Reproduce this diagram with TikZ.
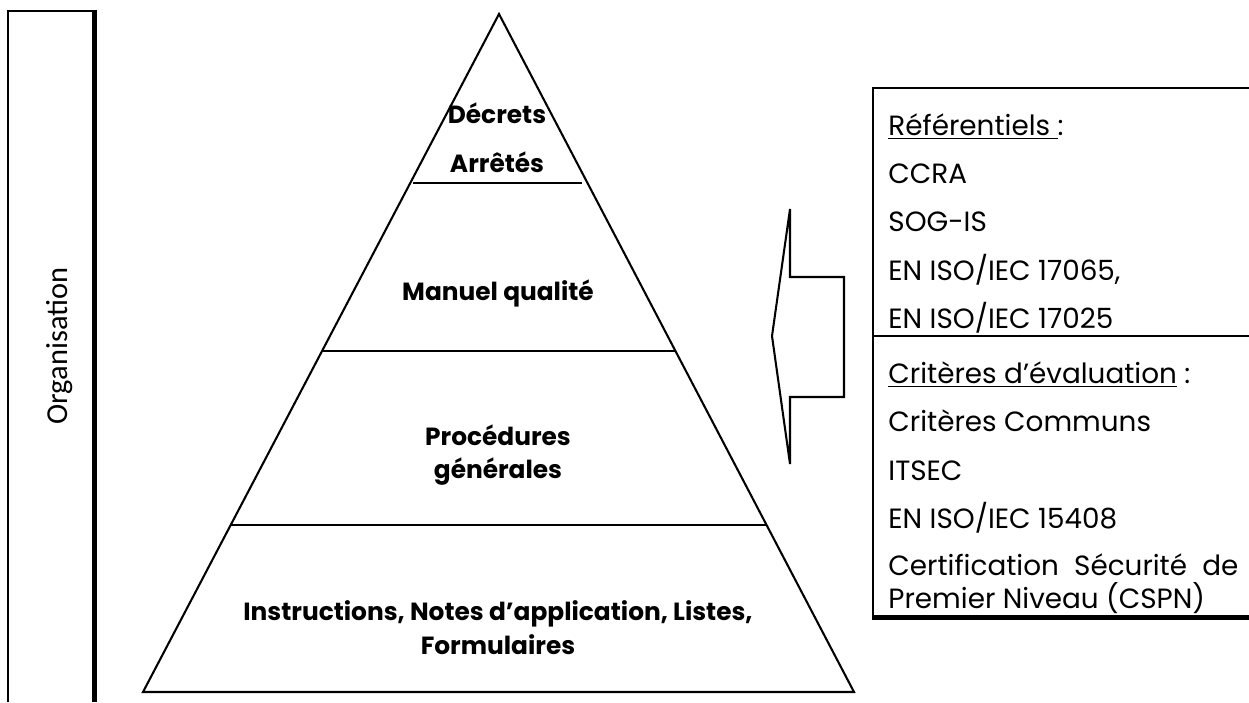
\documentclass[tikz,border=0pt]{standalone}
\usepackage{fontspec}
\setmainfont{Poppins}
\newfontfamily\calib{Carlito}
\usetikzlibrary{calc}
\newlength\mywd
\begin{document}
\settowidth\mywd{\fontsize{12}{14}\selectfont EN ISO/IEC 17065,}
\pgfmathsetmacro\refsize{12*106.72/\mywd}
\settowidth\mywd{\fontsize{12}{14}\selectfont\bfseries Décrets}
\pgfmathsetmacro\lvlsize{12*45.2/\mywd}
\begin{tikzpicture}[x=0.46pt,y=-0.46pt,line join=miter]
\tikzset{
  edge/.style={line width=0.95pt},
  heavy/.style={line width=2.3pt},
  lvl/.style={font=\fontsize{\lvlsize}{14}\selectfont\bfseries,anchor=base,inner sep=0pt},
  ref/.style={font=\fontsize{\refsize}{14}\selectfont,anchor=base west,inner sep=0pt},
}
\useasboundingbox (0,0) rectangle (1249,702);
% left organisation panel
\draw[edge] (8,702) -- (8,11) -- (96,11);
\draw[heavy] (94.5,9.9) -- (94.5,702);
\node[rotate=90,font=\calib\fontsize{14}{16}\selectfont,inner sep=0pt] (org) at (60,346) {Organisation};
% pyramid
\coordinate (apex) at (499,14);
\coordinate (bl) at (143,692);
\coordinate (br) at (854,692);
\draw[edge] (bl) -- (apex) -- (br) -- cycle;
\coordinate (l1a) at (413,183);
\coordinate (l1b) at (582,183);
\draw[edge] (l1a) -- (l1b);
\draw[edge] ($(apex)!0.497!(bl)$) -- ($(apex)!0.497!(br)$);
\draw[edge] ($(apex)!0.7537!(bl)$) -- ($(apex)!0.7537!(br)$);
\node[lvl] (decrets) at (497,123) {Décrets};
\node[lvl] (arretes) at (497,172) {Arrêtés};
\node[lvl] (manuel) at (498,300) {Manuel qualité};
\node[lvl] (proc1) at (498,445) {Procédures};
\node[lvl] (proc2) at (498,478) {générales};
\node[lvl] (instr1) at (498,620) {Instructions, Notes d’application, Listes,};
\node[lvl] (instr2) at (498,654) {Formulaires};
% arrow
\draw[edge] (772,336) -- (790,209) -- (790,277) -- (844,277) -- (844,397) -- (790,397) -- (790,464) -- cycle;
% right box
\draw[edge] (1249,88) -- (873,88) -- (873,619);
\draw[edge] (873,336) -- (1249,336);
\draw[heavy] (871.9,617) -- (1249,617);
\node[ref] (r0) at (888,135) {\underline{Référentiels }:};
\node[ref] (r1) at (888,183) {CCRA};
\node[ref] (r2) at (888,231) {SOG-IS};
\node[ref] (r3) at (888,280) {EN ISO/IEC 17065,};
\node[ref] (r4) at (888,328) {EN ISO/IEC 17025};
\node[ref] (c0) at (888,383) {\underline{Critères d’évaluation} :};
\node[ref] (c1) at (888,431) {Critères Communs};
\node[ref] (c2) at (888,480) {ITSEC};
\node[ref] (c3) at (888,528) {EN ISO/IEC 15408};
\node[ref] (c4) at (888,575) {\hbox to 161pt{Certification\hfill Sécurité\hfill de}};
\node[ref] (c5) at (888,608) {Premier Niveau (CSPN)};
\end{tikzpicture}
\end{document}
